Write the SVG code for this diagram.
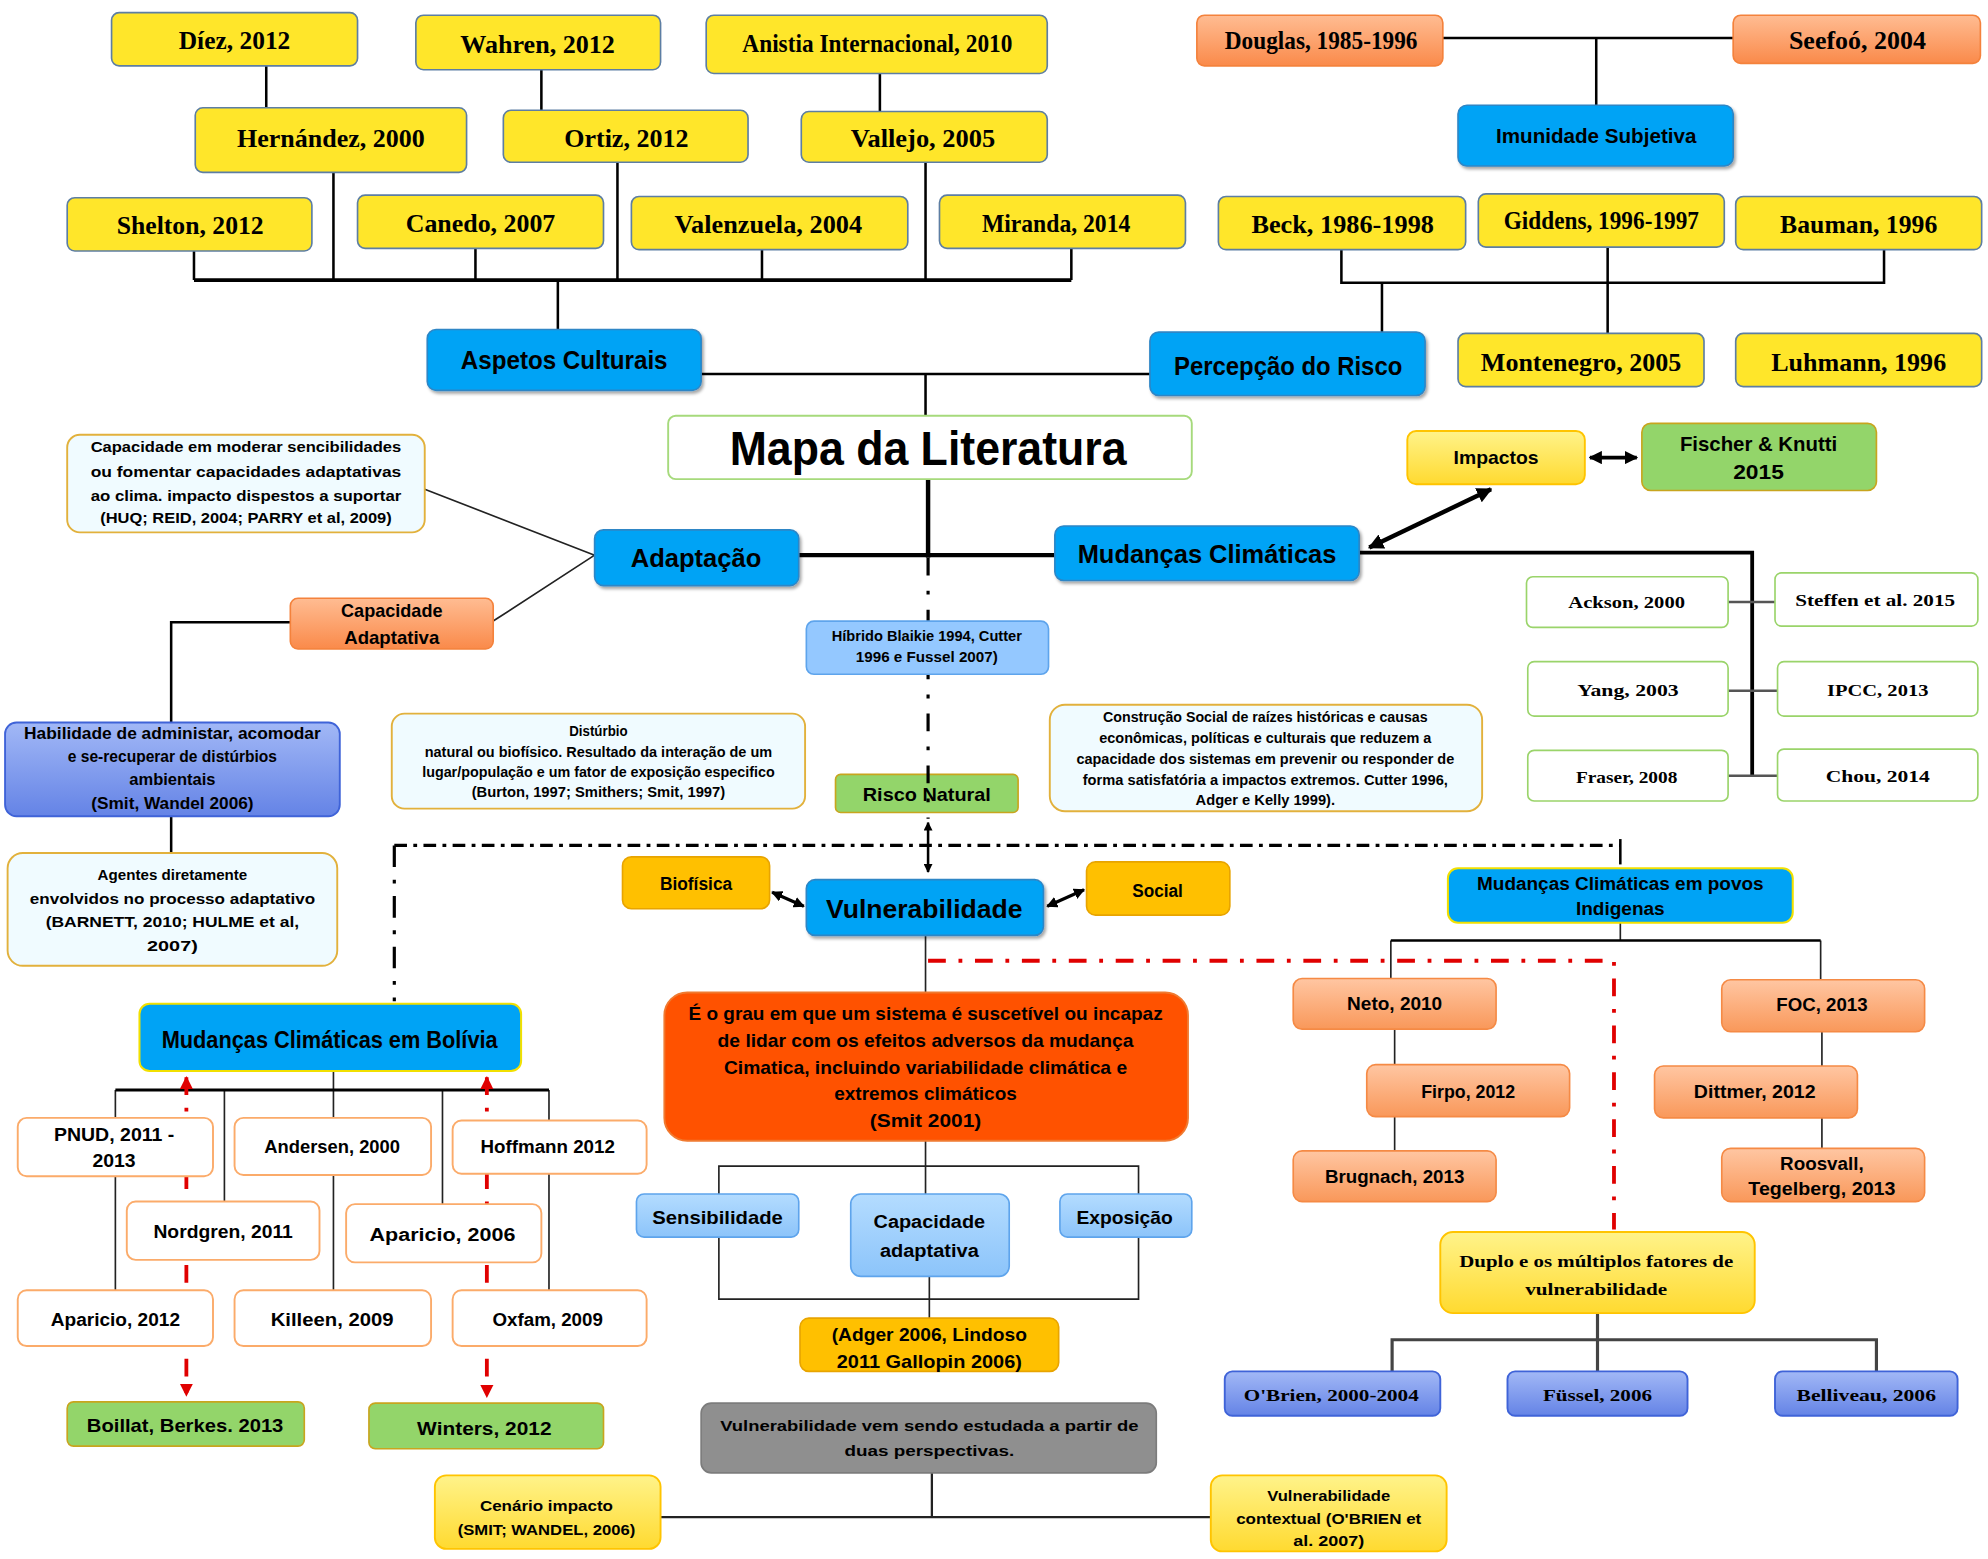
<svg xmlns="http://www.w3.org/2000/svg" width="1988" height="1559" viewBox="0 0 1988 1559">
<defs>
<style>
.s{font-family:"Liberation Sans",Arial,sans-serif;font-weight:bold;text-anchor:middle;fill:#000}
.t{font-family:"Liberation Serif","Times New Roman",serif;font-weight:bold;text-anchor:middle;fill:#000}
.y{fill:#ffe62a;stroke:#5d7ea3;stroke-width:1.3}
.o{fill:url(#gO);stroke:#f4823c;stroke-width:1.3}
.b{fill:#00a3f5;stroke:#2d86c6;stroke-width:1.3;filter:url(#sh)}
.by{fill:#00a3f5;stroke:#f2e000;stroke-width:1.6}
.tb{fill:#f0fbff;stroke:#e2b13c;stroke-width:1.5}
.wo{fill:#fff;stroke:#fbab6a;stroke-width:1.5}
.wg{fill:#fff;stroke:#9ad46a;stroke-width:1.3}
.g{fill:#93d56a;stroke:#c8a51e;stroke-width:1.3}
.a{fill:#ffc000;stroke:#e8a400;stroke-width:1.3}
.lb{fill:url(#gLB);stroke:#5ea4ec;stroke-width:1.3}
.p{fill:url(#gP);stroke:#3f63d8;stroke-width:1.5}
.o2{fill:url(#gO2);stroke:#f58a45;stroke-width:1.3}
.rr{fill:#ff5200;stroke:#f07a30;stroke-width:1.5}
.gr{fill:#8f8f8f;stroke:#7c7c7c;stroke-width:1.3}
.yl{fill:url(#gY);stroke:#ffc400;stroke-width:1.5}
.mp{fill:#fff;stroke:#a6da7c;stroke-width:1.5}
.ln{fill:none;stroke:#000;stroke-width:2}
.lt{fill:none;stroke:#222;stroke-width:1.3}
.lk{fill:none;stroke:#000;stroke-width:3.5}
.lg{fill:none;stroke:#555;stroke-width:2}
.dd{fill:none;stroke:#000;stroke-width:2.5}
.rd{fill:none;stroke:#e00000;stroke-width:3;stroke-dasharray:14 10 3 10}
</style>
<linearGradient id="gO" x1="0" y1="0" x2="0" y2="1"><stop offset="0" stop-color="#ffbc92"/><stop offset="1" stop-color="#fa8a4a"/></linearGradient>
<linearGradient id="gO2" x1="0" y1="0" x2="0" y2="1"><stop offset="0" stop-color="#ffc6a2"/><stop offset="1" stop-color="#f9985a"/></linearGradient>
<linearGradient id="gLB" x1="0" y1="0" x2="0" y2="1"><stop offset="0" stop-color="#b4dcff"/><stop offset="1" stop-color="#8cc4fa"/></linearGradient>
<linearGradient id="gP" x1="0" y1="0" x2="0" y2="1"><stop offset="0" stop-color="#a2b8f6"/><stop offset="1" stop-color="#6483e6"/></linearGradient>
<linearGradient id="gY" x1="0" y1="0" x2="0" y2="1"><stop offset="0" stop-color="#fff38a"/><stop offset="1" stop-color="#ffda30"/></linearGradient>
<filter id="sh" x="-10%" y="-10%" width="130%" height="140%"><feDropShadow dx="1.5" dy="2" stdDeviation="1.2" flood-color="#000" flood-opacity="0.35"/></filter>
<marker id="ah" viewBox="0 0 10 10" refX="9" refY="5" markerWidth="3.5" markerHeight="3.5" orient="auto-start-reverse"><path d="M0,0 L10,5 L0,10 z" fill="#000"/></marker>
<marker id="ahr" viewBox="0 0 10 10" refX="9" refY="5" markerWidth="3.5" markerHeight="3.5" orient="auto-start-reverse"><path d="M0,0 L10,5 L0,10 z" fill="#e00000"/></marker>
</defs>
<rect width="1988" height="1559" fill="#fff"/>
<g transform="scale(1.26786,1.26748)">

<g id="n-risco"><rect class="g" x="659" y="611" width="144" height="30" rx="4"/><text class="s" x="731" y="632" font-size="15" textLength="101" lengthAdjust="spacingAndGlyphs">Risco Natural</text></g>

<g id="connectors">
<path class="ln" d="M210,52V85M427,55V87M694,58V88M263,136V221M487,128V221M730,128V221M153,198V221M375,196V221M601,197V221M845,196V221"/>
<path class="lk" d="M153,221H845" style="stroke-width:3"/>
<path class="ln" d="M440,221V260M553,295H907M730,295V328"/>
<path class="ln" d="M1138,30H1367M1259,30V83M1058,197V223H1486V197M1268,195V263M1090,223V262"/>
<path class="lk" d="M732,378V440M630,438H832"/>
<path class="dd" d="M732,440V646" stroke-dasharray="14 12 3 12"/>
<path class="ln" d="M732,649V688" marker-start="url(#ah)" marker-end="url(#ah)"/>
<path class="dd" d="M311,667H1278" stroke-dasharray="10 5 3 5"/>
<path class="dd" d="M311,667V790" stroke-dasharray="17 10 3 10"/>
<path class="ln" d="M1278,662V682"/>
<path class="ln" d="M609,704L634,715" style="stroke-width:2.5" marker-start="url(#ah)" marker-end="url(#ah)"/>
<path class="ln" d="M855,702L826,715" style="stroke-width:2.5" marker-start="url(#ah)" marker-end="url(#ah)"/>
<path class="lt" d="M730,738V783"/>
<path class="rd" d="M732,758H1273V970"/>
<path class="lt" d="M730,900V942M567,942V920H898V942M567,976V1025H898V976M733,1007V1040"/>
<path class="lt" d="M735,1162V1197M521,1197H955" style="stroke-width:1.8"/>
<path class="lt" d="M263,845V860M91,860V1018M177,860V948M263,860V1018M349,860V950M433,860V1018"/>
<path class="ln" d="M91,860H433" style="stroke-width:2.5"/>
<path class="rd" d="M147,850V1101" marker-start="url(#ahr)" marker-end="url(#ahr)"/>
<path class="rd" d="M384,850V1102" marker-start="url(#ahr)" marker-end="url(#ahr)"/>
<path class="lt" d="M1278,728V742M1097,742V772M1436,742V773M1100,812V840M1100,881V908M1437,814V841M1437,882V906"/>
<path class="ln" d="M1097,742H1436"/>
<path class="ln" d="M1260,1036V1082M1098,1082V1057H1480V1082" style="stroke:#444;stroke-width:2.5"/>
<path class="ln" d="M1072,436H1382V612" style="stroke-width:3"/>
<path class="lg" d="M1363,475H1400M1363,545H1402M1363,612H1402"/>
<path class="ln" d="M1080,432L1176,386" style="stroke-width:3.5" marker-start="url(#ah)" marker-end="url(#ah)"/>
<path class="ln" d="M1254,361H1291" style="stroke-width:3" marker-start="url(#ah)" marker-end="url(#ah)"/>
<path class="lt" d="M335,386L469,438M389,490L469,438"/>
<path class="ln" d="M229,491H135V570M135,644V673"/>
</g>

<g id="n-diez"><rect class="y" x="88" y="10" width="194" height="42" rx="6"/><text class="t" x="185" y="39" font-size="20" textLength="88" lengthAdjust="spacingAndGlyphs">Díez, 2012</text></g>
<g id="n-wahren"><rect class="y" x="328" y="12" width="193" height="43" rx="6"/><text class="t" x="424" y="42" font-size="20" textLength="122" lengthAdjust="spacingAndGlyphs">Wahren, 2012</text></g>
<g id="n-anistia"><rect class="y" x="557" y="12" width="269" height="46" rx="6"/><text class="t" x="692" y="41" font-size="20" textLength="213" lengthAdjust="spacingAndGlyphs">Anistia Internacional, 2010</text></g>
<g id="n-hernandez"><rect class="y" x="154" y="85" width="214" height="51" rx="6"/><text class="t" x="261" y="116" font-size="20" textLength="148" lengthAdjust="spacingAndGlyphs">Hernández, 2000</text></g>
<g id="n-ortiz"><rect class="y" x="397" y="87" width="193" height="41" rx="6"/><text class="t" x="494" y="116" font-size="20" textLength="98" lengthAdjust="spacingAndGlyphs">Ortiz, 2012</text></g>
<g id="n-vallejo"><rect class="y" x="632" y="88" width="194" height="40" rx="6"/><text class="t" x="728" y="116" font-size="20" textLength="114" lengthAdjust="spacingAndGlyphs">Vallejo, 2005</text></g>
<g id="n-shelton"><rect class="y" x="53" y="156" width="193" height="42" rx="6"/><text class="t" x="150" y="185" font-size="20" textLength="116" lengthAdjust="spacingAndGlyphs">Shelton, 2012</text></g>
<g id="n-canedo"><rect class="y" x="282" y="154" width="194" height="42" rx="6"/><text class="t" x="379" y="183" font-size="20" textLength="118" lengthAdjust="spacingAndGlyphs">Canedo, 2007</text></g>
<g id="n-valenzuela"><rect class="y" x="498" y="155" width="218" height="42" rx="6"/><text class="t" x="606" y="184" font-size="20" textLength="148" lengthAdjust="spacingAndGlyphs">Valenzuela, 2004</text></g>
<g id="n-miranda"><rect class="y" x="741" y="154" width="194" height="42" rx="6"/><text class="t" x="833" y="183" font-size="20" textLength="117" lengthAdjust="spacingAndGlyphs">Miranda, 2014</text></g>

<g id="n-douglas"><rect class="o" x="944" y="12" width="194" height="40" rx="6"/><text class="t" x="1042" y="39" font-size="20" textLength="152" lengthAdjust="spacingAndGlyphs">Douglas, 1985-1996</text></g>
<g id="n-seefoo"><rect class="o" x="1367" y="12" width="195" height="38" rx="6"/><text class="t" x="1465" y="39" font-size="20" textLength="108" lengthAdjust="spacingAndGlyphs">Seefoó, 2004</text></g>
<g id="n-imunidade"><rect class="b" x="1150" y="83" width="217" height="48" rx="7"/><text class="s" x="1259" y="113" font-size="16" textLength="158" lengthAdjust="spacingAndGlyphs">Imunidade Subjetiva</text></g>
<g id="n-beck"><rect class="y" x="961" y="155" width="195" height="42" rx="6"/><text class="t" x="1059" y="184" font-size="20" textLength="144" lengthAdjust="spacingAndGlyphs">Beck, 1986-1998</text></g>
<g id="n-giddens"><rect class="y" x="1166" y="153" width="194" height="42" rx="6"/><text class="t" x="1263" y="181" font-size="20" textLength="154" lengthAdjust="spacingAndGlyphs">Giddens, 1996-1997</text></g>
<g id="n-bauman"><rect class="y" x="1369" y="155" width="194" height="42" rx="6"/><text class="t" x="1466" y="184" font-size="20" textLength="124" lengthAdjust="spacingAndGlyphs">Bauman, 1996</text></g>
<g id="n-montenegro"><rect class="y" x="1150" y="263" width="194" height="42" rx="6"/><text class="t" x="1247" y="293" font-size="20" textLength="158" lengthAdjust="spacingAndGlyphs">Montenegro, 2005</text></g>
<g id="n-luhmann"><rect class="y" x="1369" y="263" width="194" height="42" rx="6"/><text class="t" x="1466" y="293" font-size="20" textLength="138" lengthAdjust="spacingAndGlyphs">Luhmann, 1996</text></g>

<g id="n-aspetos"><rect class="b" x="337" y="260" width="216" height="48" rx="7"/><text class="s" x="445" y="291" font-size="20" textLength="163" lengthAdjust="spacingAndGlyphs">Aspetos Culturais</text></g>
<g id="n-percepcao"><rect class="b" x="907" y="262" width="217" height="50" rx="7"/><text class="s" x="1016" y="296" font-size="20" textLength="180" lengthAdjust="spacingAndGlyphs">Percepção do Risco</text></g>
<g id="n-mapa"><rect class="mp" x="527" y="328" width="413" height="50" rx="6"/><text class="s" x="732" y="367" font-size="38" textLength="313" lengthAdjust="spacingAndGlyphs">Mapa da Literatura</text></g>
<g id="n-adaptacao"><rect class="b" x="469" y="418" width="161" height="44" rx="7"/><text class="s" x="549" y="447" font-size="21" textLength="103" lengthAdjust="spacingAndGlyphs">Adaptação</text></g>
<g id="n-mudancas"><rect class="b" x="832" y="415" width="240" height="43" rx="7"/><text class="s" x="952" y="444" font-size="21" textLength="204" lengthAdjust="spacingAndGlyphs">Mudanças Climáticas</text></g>
<g id="n-impactos"><rect class="yl" x="1110" y="340" width="140" height="42" rx="7"/><text class="s" x="1180" y="366" font-size="15" textLength="67" lengthAdjust="spacingAndGlyphs">Impactos</text></g>
<g id="n-fischer"><rect class="g" x="1295" y="334" width="185" height="53" rx="7"/><text class="s" x="1387" y="356" font-size="16" textLength="124" lengthAdjust="spacingAndGlyphs">Fischer &amp; Knutti</text><text class="s" x="1387" y="378" font-size="16" textLength="40" lengthAdjust="spacingAndGlyphs">2015</text></g>
<g id="n-ackson"><rect class="wg" x="1204" y="455" width="159" height="40" rx="5"/><text class="t" x="1283" y="480" font-size="14" textLength="92" lengthAdjust="spacingAndGlyphs">Ackson, 2000</text></g>
<g id="n-steffen"><rect class="wg" x="1400" y="452" width="160" height="42" rx="5"/><text class="t" x="1479" y="478" font-size="14" textLength="126" lengthAdjust="spacingAndGlyphs">Steffen et al. 2015</text></g>
<g id="n-yang"><rect class="wg" x="1205" y="522" width="158" height="43" rx="5"/><text class="t" x="1284" y="549" font-size="14" textLength="80" lengthAdjust="spacingAndGlyphs">Yang, 2003</text></g>
<g id="n-ipcc"><rect class="wg" x="1402" y="522" width="158" height="43" rx="5"/><text class="t" x="1481" y="549" font-size="14" textLength="80" lengthAdjust="spacingAndGlyphs">IPCC, 2013</text></g>
<g id="n-fraser"><rect class="wg" x="1205" y="592" width="158" height="40" rx="5"/><text class="t" x="1283" y="618" font-size="14" textLength="80" lengthAdjust="spacingAndGlyphs">Fraser, 2008</text></g>
<g id="n-chou"><rect class="wg" x="1402" y="591" width="158" height="41" rx="5"/><text class="t" x="1481" y="617" font-size="14" textLength="82" lengthAdjust="spacingAndGlyphs">Chou, 2014</text></g>

<g id="n-captxt"><rect class="tb" x="53" y="343" width="282" height="77" rx="10"/>
<text class="s" x="194" y="357" font-size="11" textLength="245" lengthAdjust="spacingAndGlyphs">Capacidade em moderar sencibilidades</text>
<text class="s" x="194" y="376" font-size="11" textLength="245" lengthAdjust="spacingAndGlyphs">ou fomentar capacidades adaptativas</text>
<text class="s" x="194" y="395" font-size="11" textLength="245" lengthAdjust="spacingAndGlyphs">ao clima. impacto dispestos a suportar</text>
<text class="s" x="194" y="413" font-size="11" textLength="230" lengthAdjust="spacingAndGlyphs">(HUQ; REID, 2004; PARRY et al, 2009)</text></g>
<g id="n-capad"><rect class="o" x="229" y="472" width="160" height="40" rx="6"/><text class="s" x="309" y="487" font-size="15" textLength="80" lengthAdjust="spacingAndGlyphs">Capacidade</text><text class="s" x="309" y="508" font-size="15" textLength="75" lengthAdjust="spacingAndGlyphs">Adaptativa</text></g>
<g id="n-habilidade"><rect class="p" x="4" y="570" width="264" height="74" rx="9"/>
<text class="s" x="136" y="583" font-size="13" textLength="234" lengthAdjust="spacingAndGlyphs">Habilidade de administar, acomodar</text>
<text class="s" x="136" y="601" font-size="13" textLength="165" lengthAdjust="spacingAndGlyphs">e se-recuperar de distúrbios</text>
<text class="s" x="136" y="619" font-size="13" textLength="68" lengthAdjust="spacingAndGlyphs">ambientais</text>
<text class="s" x="136" y="638" font-size="13" textLength="128" lengthAdjust="spacingAndGlyphs">(Smit, Wandel 2006)</text></g>
<g id="n-agentes"><rect class="tb" x="6" y="673" width="260" height="89" rx="12"/>
<text class="s" x="136" y="694" font-size="12" textLength="118" lengthAdjust="spacingAndGlyphs">Agentes diretamente</text>
<text class="s" x="136" y="713" font-size="12" textLength="225" lengthAdjust="spacingAndGlyphs">envolvidos no processo adaptativo</text>
<text class="s" x="136" y="731" font-size="12" textLength="200" lengthAdjust="spacingAndGlyphs">(BARNETT, 2010; HULME et al,</text>
<text class="s" x="136" y="750" font-size="12" textLength="40" lengthAdjust="spacingAndGlyphs">2007)</text></g>
<g id="n-hibrido"><rect class="lb" x="636" y="490" width="191" height="42" rx="6" style="fill:#94c8ff"/>
<text class="s" x="731" y="506" font-size="12" textLength="150" lengthAdjust="spacingAndGlyphs">Híbrido Blaikie 1994, Cutter</text>
<text class="s" x="731" y="522" font-size="12" textLength="112" lengthAdjust="spacingAndGlyphs">1996 e Fussel 2007)</text></g>
<g id="n-disturbio"><rect class="tb" x="309" y="563" width="326" height="75" rx="10"/>
<text class="s" x="472" y="581" font-size="11" textLength="46" lengthAdjust="spacingAndGlyphs">Distúrbio</text>
<text class="s" x="472" y="597" font-size="11" textLength="274" lengthAdjust="spacingAndGlyphs">natural ou biofísico. Resultado da interação de um</text>
<text class="s" x="472" y="613" font-size="11" textLength="278" lengthAdjust="spacingAndGlyphs">lugar/população e um fator de exposição especifico</text>
<text class="s" x="472" y="629" font-size="11" textLength="200" lengthAdjust="spacingAndGlyphs">(Burton, 1997; Smithers; Smit, 1997)</text></g>
<g id="n-construcao"><rect class="tb" x="828" y="556" width="341" height="84" rx="12"/>
<text class="s" x="998" y="570" font-size="11" textLength="256" lengthAdjust="spacingAndGlyphs">Construção Social de raízes históricas e causas</text>
<text class="s" x="998" y="586" font-size="11" textLength="262" lengthAdjust="spacingAndGlyphs">econômicas, políticas e culturais que reduzem a</text>
<text class="s" x="998" y="603" font-size="11" textLength="298" lengthAdjust="spacingAndGlyphs">capacidade dos sistemas em prevenir ou responder de</text>
<text class="s" x="998" y="619" font-size="11" textLength="288" lengthAdjust="spacingAndGlyphs">forma satisfatória a impactos extremos. Cutter 1996,</text>
<text class="s" x="998" y="635" font-size="11" textLength="110" lengthAdjust="spacingAndGlyphs">Adger e Kelly 1999).</text></g>

<g id="n-biofisica"><rect class="a" x="491" y="676" width="116" height="41" rx="7"/><text class="s" x="549" y="702" font-size="14" textLength="57" lengthAdjust="spacingAndGlyphs">Biofísica</text></g>
<g id="n-social"><rect class="a" x="857" y="680" width="113" height="42" rx="7"/><text class="s" x="913" y="708" font-size="14" textLength="40" lengthAdjust="spacingAndGlyphs">Social</text></g>
<g id="n-vulnerabilidade"><rect class="b" x="636" y="694" width="187" height="44" rx="7"/><text class="s" x="729" y="724" font-size="20" textLength="155" lengthAdjust="spacingAndGlyphs">Vulnerabilidade</text></g>
<g id="n-grau"><rect class="rr" x="524" y="783" width="413" height="117" rx="18"/>
<text class="s" x="730" y="805" font-size="15" textLength="374" lengthAdjust="spacingAndGlyphs">É o grau em que um sistema é suscetível ou incapaz</text>
<text class="s" x="730" y="826" font-size="15" textLength="328" lengthAdjust="spacingAndGlyphs">de lidar com os efeitos adversos da mudança</text>
<text class="s" x="730" y="847" font-size="15" textLength="318" lengthAdjust="spacingAndGlyphs">Cimatica, incluindo variabilidade climática e</text>
<text class="s" x="730" y="868" font-size="15" textLength="144" lengthAdjust="spacingAndGlyphs">extremos climáticos</text>
<text class="s" x="730" y="889" font-size="15" textLength="88" lengthAdjust="spacingAndGlyphs">(Smit 2001)</text></g>
<g id="n-sensibilidade"><rect class="lb" x="502" y="942" width="128" height="34" rx="6"/><text class="s" x="566" y="966" font-size="15" textLength="103" lengthAdjust="spacingAndGlyphs">Sensibilidade</text></g>
<g id="n-capadapt"><rect class="lb" x="671" y="942" width="125" height="65" rx="8"/><text class="s" x="733" y="969" font-size="14" textLength="88" lengthAdjust="spacingAndGlyphs">Capacidade</text><text class="s" x="733" y="992" font-size="14" textLength="78" lengthAdjust="spacingAndGlyphs">adaptativa</text></g>
<g id="n-exposicao"><rect class="lb" x="836" y="942" width="104" height="34" rx="6"/><text class="s" x="887" y="966" font-size="15" textLength="76" lengthAdjust="spacingAndGlyphs">Exposição</text></g>
<g id="n-adger"><rect class="a" x="631" y="1040" width="204" height="42" rx="7"/><text class="s" x="733" y="1058" font-size="15" textLength="154" lengthAdjust="spacingAndGlyphs">(Adger 2006, Lindoso</text><text class="s" x="733" y="1079" font-size="15" textLength="146" lengthAdjust="spacingAndGlyphs">2011 Gallopin 2006)</text></g>
<g id="n-duas"><rect class="gr" x="553" y="1107" width="359" height="55" rx="8"/><text class="s" x="733" y="1129" font-size="12" textLength="330" lengthAdjust="spacingAndGlyphs">Vulnerabilidade vem sendo estudada a partir de</text><text class="s" x="733" y="1149" font-size="12" textLength="134" lengthAdjust="spacingAndGlyphs">duas perspectivas.</text></g>
<g id="n-cenario"><rect class="yl" x="343" y="1164" width="178" height="58" rx="9"/><text class="s" x="431" y="1192" font-size="12" textLength="105" lengthAdjust="spacingAndGlyphs">Cenário impacto</text><text class="s" x="431" y="1211" font-size="12" textLength="140" lengthAdjust="spacingAndGlyphs">(SMIT; WANDEL, 2006)</text></g>
<g id="n-contextual"><rect class="yl" x="955" y="1164" width="186" height="60" rx="9"/><text class="s" x="1048" y="1184" font-size="12" textLength="97" lengthAdjust="spacingAndGlyphs">Vulnerabilidade</text><text class="s" x="1048" y="1202" font-size="12" textLength="146" lengthAdjust="spacingAndGlyphs">contextual (O'BRIEN et</text><text class="s" x="1048" y="1220" font-size="12" textLength="56" lengthAdjust="spacingAndGlyphs">al. 2007)</text></g>

<g id="n-bolivia"><rect class="by" x="110" y="792" width="301" height="53" rx="8"/><text class="s" x="260" y="827" font-size="19" textLength="265" lengthAdjust="spacingAndGlyphs">Mudanças Climáticas em Bolívia</text></g>
<g id="n-pnud"><rect class="wo" x="14" y="882" width="154" height="46" rx="7"/><text class="s" x="90" y="900" font-size="14" textLength="95" lengthAdjust="spacingAndGlyphs">PNUD, 2011 -</text><text class="s" x="90" y="921" font-size="14" textLength="34" lengthAdjust="spacingAndGlyphs">2013</text></g>
<g id="n-andersen"><rect class="wo" x="185" y="882" width="155" height="45" rx="7"/><text class="s" x="262" y="910" font-size="14" textLength="107" lengthAdjust="spacingAndGlyphs">Andersen, 2000</text></g>
<g id="n-hoffmann"><rect class="wo" x="357" y="884" width="153" height="42" rx="7"/><text class="s" x="432" y="910" font-size="14" textLength="106" lengthAdjust="spacingAndGlyphs">Hoffmann 2012</text></g>
<g id="n-nordgren"><rect class="wo" x="100" y="948" width="152" height="46" rx="7"/><text class="s" x="176" y="977" font-size="14" textLength="110" lengthAdjust="spacingAndGlyphs">Nordgren, 2011</text></g>
<g id="n-aparicio06"><rect class="wo" x="273" y="950" width="154" height="46" rx="7"/><text class="s" x="349" y="979" font-size="14" textLength="115" lengthAdjust="spacingAndGlyphs">Aparicio, 2006</text></g>
<g id="n-aparicio12"><rect class="wo" x="14" y="1018" width="154" height="44" rx="7"/><text class="s" x="91" y="1046" font-size="14" textLength="102" lengthAdjust="spacingAndGlyphs">Aparicio, 2012</text></g>
<g id="n-killeen"><rect class="wo" x="185" y="1018" width="155" height="44" rx="7"/><text class="s" x="262" y="1046" font-size="14" textLength="97" lengthAdjust="spacingAndGlyphs">Killeen, 2009</text></g>
<g id="n-oxfam"><rect class="wo" x="357" y="1018" width="153" height="44" rx="7"/><text class="s" x="432" y="1046" font-size="14" textLength="87" lengthAdjust="spacingAndGlyphs">Oxfam, 2009</text></g>
<g id="n-boillat"><rect class="g" x="53" y="1106" width="187" height="35" rx="5"/><text class="s" x="146" y="1130" font-size="15" textLength="155" lengthAdjust="spacingAndGlyphs">Boillat, Berkes. 2013</text></g>
<g id="n-winters"><rect class="g" x="291" y="1107" width="185" height="36" rx="5"/><text class="s" x="382" y="1132" font-size="15" textLength="106" lengthAdjust="spacingAndGlyphs">Winters, 2012</text></g>

<g id="n-indigenas"><rect class="by" x="1142" y="685" width="272" height="43" rx="8"/><text class="s" x="1278" y="702" font-size="14" textLength="226" lengthAdjust="spacingAndGlyphs">Mudanças Climáticas em povos</text><text class="s" x="1278" y="722" font-size="14" textLength="70" lengthAdjust="spacingAndGlyphs">Indigenas</text></g>
<g id="n-neto"><rect class="o2" x="1020" y="772" width="160" height="40" rx="7"/><text class="s" x="1100" y="797" font-size="14" textLength="75" lengthAdjust="spacingAndGlyphs">Neto, 2010</text></g>
<g id="n-firpo"><rect class="o2" x="1078" y="840" width="160" height="41" rx="7"/><text class="s" x="1158" y="866" font-size="14" textLength="74" lengthAdjust="spacingAndGlyphs">Firpo, 2012</text></g>
<g id="n-brugnach"><rect class="o2" x="1020" y="908" width="160" height="40" rx="7"/><text class="s" x="1100" y="933" font-size="14" textLength="110" lengthAdjust="spacingAndGlyphs">Brugnach, 2013</text></g>
<g id="n-foc"><rect class="o2" x="1358" y="773" width="160" height="41" rx="7"/><text class="s" x="1437" y="798" font-size="14" textLength="72" lengthAdjust="spacingAndGlyphs">FOC, 2013</text></g>
<g id="n-dittmer"><rect class="o2" x="1305" y="841" width="160" height="41" rx="7"/><text class="s" x="1384" y="866" font-size="14" textLength="96" lengthAdjust="spacingAndGlyphs">Dittmer, 2012</text></g>
<g id="n-roosvall"><rect class="o2" x="1358" y="906" width="160" height="42" rx="7"/><text class="s" x="1437" y="923" font-size="14" textLength="66" lengthAdjust="spacingAndGlyphs">Roosvall,</text><text class="s" x="1437" y="943" font-size="14" textLength="116" lengthAdjust="spacingAndGlyphs">Tegelberg, 2013</text></g>
<g id="n-duplo"><rect class="yl" x="1136" y="972" width="248" height="64" rx="10"/><text class="t" x="1259" y="1000" font-size="14" textLength="216" lengthAdjust="spacingAndGlyphs">Duplo e os múltiplos fatores de</text><text class="t" x="1259" y="1022" font-size="14" textLength="112" lengthAdjust="spacingAndGlyphs">vulnerabilidade</text></g>
<g id="n-obrien"><rect class="p" x="966" y="1082" width="170" height="35" rx="6"/><text class="t" x="1050" y="1105" font-size="14" textLength="138" lengthAdjust="spacingAndGlyphs">O'Brien, 2000-2004</text></g>
<g id="n-fussel"><rect class="p" x="1189" y="1082" width="142" height="35" rx="6"/><text class="t" x="1260" y="1105" font-size="14" textLength="86" lengthAdjust="spacingAndGlyphs">Füssel, 2006</text></g>
<g id="n-belliveau"><rect class="p" x="1400" y="1082" width="144" height="35" rx="6"/><text class="t" x="1472" y="1105" font-size="14" textLength="110" lengthAdjust="spacingAndGlyphs">Belliveau, 2006</text></g>
</g>
</svg>
